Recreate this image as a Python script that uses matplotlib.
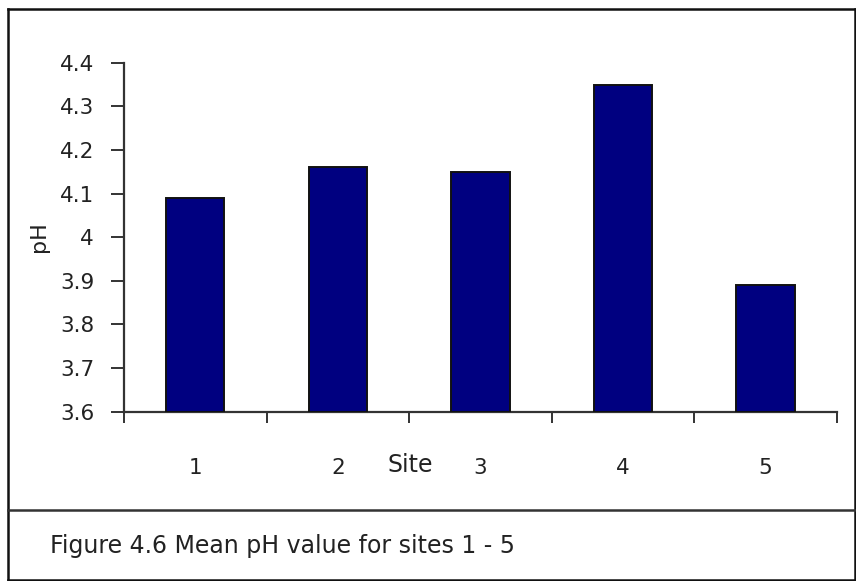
import matplotlib
matplotlib.use("Agg")
import matplotlib.pyplot as plt
from matplotlib.lines import Line2D

# Mean pH per sampling site
sites = ["1", "2", "3", "4", "5"]
mean_ph = [4.09, 4.16, 4.15, 4.35, 3.89]
y_ticks = [3.6, 3.7, 3.8, 3.9, 4.0, 4.1, 4.2, 4.3, 4.4]
y_tick_labels = ["3.6", "3.7", "3.8", "3.9", "4", "4.1", "4.2", "4.3", "4.4"]

W, H = 856, 581
fig = plt.figure(figsize=(W / 100, H / 100), dpi=100)
fig.patch.set_facecolor("white")

def fx(px):
    return px / W

def fy(py):
    return 1 - py / H

ax = fig.add_axes([fx(124), fy(411.7), fx(836.7) - fx(124), fy(62.7) - fy(411.7)])

base = y_ticks[0]
x = list(range(len(sites)))
ax.bar(x, [v - base for v in mean_ph], bottom=base, width=0.41,
       color="#000080", edgecolor="#111111", linewidth=1.4, zorder=3)

ax.set_xlim(-0.5, len(sites) - 0.5)
ax.set_ylim(y_ticks[0], y_ticks[-1])

for side in ("top", "right"):
    ax.spines[side].set_visible(False)
for side in ("left", "bottom"):
    ax.spines[side].set_color("#333333")
    ax.spines[side].set_linewidth(1.6)

ax.set_yticks(y_ticks)
ax.set_yticklabels(y_tick_labels)
ax.tick_params(axis="y", direction="out", length=9.5, width=1.4,
               color="#333333", pad=12, labelsize=15.5, labelcolor="#222222")

# site labels centred under bars, tick marks on category boundaries
ax.set_xticks(x)
ax.set_xticklabels(sites)
ax.set_xticks([i - 0.5 for i in range(len(sites) + 1)], minor=True)
ax.tick_params(axis="x", which="major", length=0, pad=33,
               labelsize=15.5, labelcolor="#222222")
ax.tick_params(axis="x", which="minor", direction="out", length=8,
               width=1.4, color="#333333")

fig.text(fx(39), fy(237), "pH", rotation=90, ha="center", va="center",
         fontsize=16, color="#222222")
fig.text(fx(410), fy(465), "Site", ha="center", va="center",
         fontsize=17, color="#222222")
fig.text(fx(50), fy(546), "Figure 4.6 Mean pH value for sites 1 - 5",
         ha="left", va="center", fontsize=17, color="#222222")

# frame and separator
frame = dict(color="#111111", lw=1.8)
fig.add_artist(Line2D([fx(8), fx(855)], [fy(9), fy(9)], **frame))
fig.add_artist(Line2D([fx(8), fx(8)], [fy(9), fy(580)], **frame))
fig.add_artist(Line2D([fx(855), fx(855)], [fy(9), fy(580)], **frame))
fig.add_artist(Line2D([fx(8), fx(855)], [fy(580), fy(580)], **frame))
fig.add_artist(Line2D([fx(8), fx(855)], [fy(509.5), fy(509.5)],
                      color="#333333", lw=1.8))

fig.savefig("out.png", dpi=100, facecolor="white")
